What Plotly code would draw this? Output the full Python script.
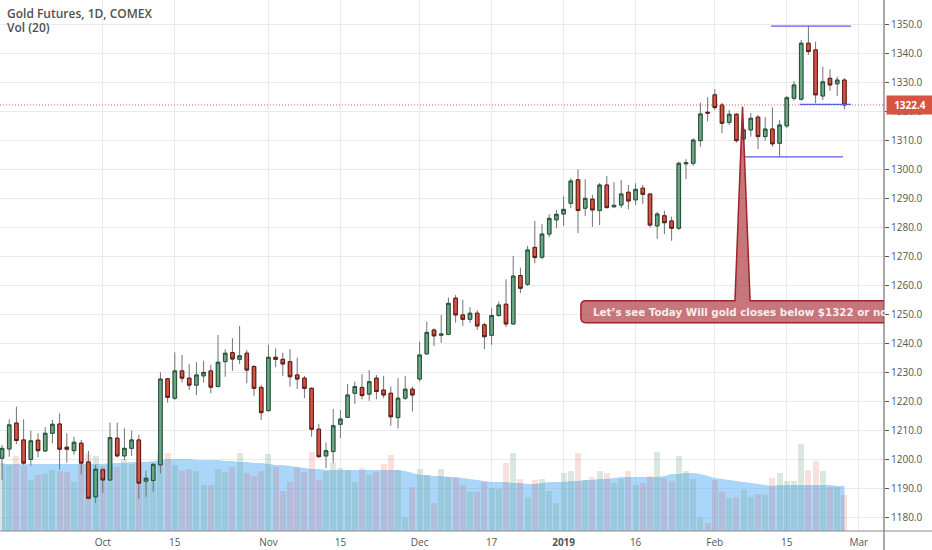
import plotly.graph_objects as go

# daily candles, left to right (Sep 2018 - Feb 2019)
opens = [1200.6, 1203.8, 1212.7, 1206.9, 1200.2, 1206.8, 1203.1, 1209.2, 1212.4, 1204.4,
         1203.2, 1205.8, 1199.3, 1187.3, 1196.6, 1193.1, 1207.5, 1201.4, 1204.0, 1206.9,
         1192.7, 1192.9, 1198.3, 1228.0, 1221.3, 1230.7, 1228.2, 1225.8, 1229.0, 1230.7,
         1225.3, 1233.9, 1237.0, 1234.7, 1236.8, 1232.2, 1225.0, 1217.0, 1235.4, 1234.7,
         1233.9, 1229.3, 1228.2, 1224.7, 1210.6, 1201.4, 1202.9, 1212.3, 1214.7, 1223.0,
         1225.0, 1222.7, 1228.2, 1224.1, 1223.0, 1214.6, 1221.3, 1224.4, 1227.9, 1236.6,
         1244.8, 1243.0, 1243.3, 1255.8, 1250.0, 1248.5, 1250.6, 1246.6, 1243.0, 1249.8,
         1253.7, 1246.9, 1263.6, 1260.6, 1273.3, 1269.9, 1277.9, 1282.8, 1284.8, 1288.5,
         1296.6, 1286.8, 1289.9, 1286.0, 1294.8, 1287.3, 1287.9, 1292.3, 1289.7, 1293.7,
         1291.7, 1280.7, 1284.2, 1282.4, 1279.9, 1302.1, 1302.3, 1310.1, 1319.9, 1325.9,
         1322.4, 1316.4, 1319.2, 1310.7, 1313.8, 1318.2, 1311.5, 1314.1, 1309.2, 1315.2,
         1324.7, 1324.4, 1343.7, 1341.4, 1325.5, 1331.6, 1329.7, 1331.0]
highs = [1205.2, 1214.0, 1218.4, 1214.0, 1210.1, 1209.2, 1211.3, 1213.8, 1216.1, 1209.2,
         1208.0, 1206.9, 1203.1, 1198.3, 1197.1, 1212.9, 1212.9, 1210.9, 1210.1, 1208.6,
         1196.3, 1198.9, 1230.2, 1228.2, 1237.1, 1236.2, 1233.0, 1233.7, 1234.2, 1232.8,
         1243.1, 1238.2, 1242.0, 1246.2, 1237.9, 1232.8, 1225.9, 1239.7, 1238.5, 1237.0,
         1238.2, 1235.3, 1229.0, 1225.0, 1212.4, 1206.0, 1217.6, 1217.2, 1226.2, 1227.0,
         1229.6, 1231.0, 1229.3, 1229.0, 1225.3, 1228.2, 1229.0, 1225.3, 1240.8, 1247.7,
         1245.4, 1250.0, 1256.0, 1256.9, 1255.2, 1252.7, 1251.7, 1247.3, 1252.3, 1254.6,
         1262.3, 1270.3, 1266.3, 1273.8, 1282.4, 1281.4, 1284.7, 1286.2, 1291.0, 1297.1,
         1300.2, 1296.8, 1291.4, 1295.5, 1297.9, 1295.8, 1296.6, 1294.8, 1295.4, 1294.8,
         1292.0, 1285.6, 1285.9, 1283.9, 1302.9, 1303.7, 1310.9, 1323.2, 1325.1, 1327.8,
         1323.2, 1320.7, 1319.6, 1315.0, 1319.6, 1319.0, 1318.2, 1321.6, 1317.2, 1325.5,
         1330.7, 1344.8, 1349.7, 1344.2, 1335.6, 1334.7, 1332.2, 1331.6]
lows = [1193.1, 1201.1, 1205.5, 1198.3, 1198.0, 1200.9, 1202.9, 1205.8, 1196.6, 1199.1,
        1201.8, 1195.1, 1186.4, 1185.1, 1188.7, 1192.9, 1200.8, 1200.0, 1201.4, 1186.6,
        1187.3, 1189.1, 1195.4, 1219.8, 1220.7, 1226.7, 1224.1, 1222.4, 1226.7, 1223.0,
        1225.1, 1228.7, 1230.7, 1233.1, 1226.4, 1222.1, 1213.8, 1216.7, 1232.0, 1229.0,
        1225.3, 1224.5, 1221.3, 1208.0, 1200.9, 1197.1, 1198.9, 1207.5, 1214.4, 1219.3,
        1220.9, 1220.4, 1220.9, 1221.3, 1211.8, 1210.9, 1220.7, 1216.7, 1227.0, 1236.2,
        1239.3, 1240.4, 1243.0, 1247.3, 1246.2, 1247.3, 1244.8, 1238.2, 1239.7, 1249.4,
        1245.8, 1246.6, 1257.5, 1260.0, 1267.8, 1269.2, 1276.8, 1279.9, 1280.7, 1286.8,
        1278.2, 1284.1, 1280.4, 1281.0, 1286.8, 1287.0, 1286.8, 1286.4, 1287.9, 1288.3,
        1280.2, 1276.2, 1277.9, 1275.6, 1279.3, 1296.8, 1301.4, 1308.0, 1316.7, 1320.7,
        1312.7, 1315.5, 1309.4, 1309.0, 1311.5, 1307.2, 1310.1, 1308.0, 1304.6, 1314.4,
        1323.9, 1323.9, 1339.7, 1323.0, 1324.1, 1327.3, 1325.5, 1320.9]
closes = [1204.0, 1212.1, 1206.7, 1198.9, 1206.6, 1203.2, 1209.2, 1212.3, 1203.7, 1203.7,
          1206.1, 1198.9, 1186.8, 1196.8, 1193.1, 1207.7, 1201.4, 1204.0, 1206.9, 1192.0,
          1193.7, 1198.5, 1227.9, 1221.6, 1230.7, 1228.2, 1225.8, 1229.3, 1230.2, 1225.1,
          1233.7, 1236.8, 1234.8, 1235.9, 1231.0, 1224.7, 1216.3, 1235.4, 1234.7, 1233.1,
          1228.7, 1227.9, 1224.7, 1210.6, 1201.1, 1203.2, 1211.8, 1214.1, 1222.4, 1225.3,
          1222.2, 1227.0, 1223.6, 1222.4, 1214.9, 1221.3, 1224.4, 1222.4, 1236.2, 1244.0,
          1242.8, 1243.4, 1254.0, 1250.0, 1248.5, 1250.6, 1246.2, 1242.5, 1249.8, 1253.4,
          1246.9, 1263.4, 1259.2, 1272.4, 1269.8, 1277.9, 1283.3, 1284.7, 1286.4, 1296.2,
          1286.0, 1290.2, 1286.2, 1294.8, 1287.0, 1287.8, 1291.7, 1289.3, 1293.3, 1291.6,
          1281.0, 1284.8, 1281.8, 1279.9, 1302.3, 1302.5, 1310.3, 1319.3, 1319.6, 1321.5,
          1316.1, 1319.2, 1310.1, 1313.8, 1317.8, 1311.5, 1314.1, 1309.0, 1315.5, 1324.9,
          1329.3, 1343.7, 1340.8, 1325.9, 1330.4, 1329.3, 1331.0, 1322.4]

# volume and its 20-bar average, thousands of contracts
volume = [272, 264, 300, 260, 204, 224, 228, 244, 240, 236, 196, 272, 308, 300, 260, 264,
          256, 288, 268, 272, 204, 216, 316, 312, 264, 240, 248, 240, 184, 184, 248, 236,
          256, 312, 232, 220, 240, 308, 256, 160, 196, 256, 236, 316, 204, 240, 272, 252,
          244, 196, 252, 224, 236, 268, 304, 244, 56, 176, 248, 224, 112, 248, 216, 212,
          184, 156, 156, 196, 172, 168, 272, 312, 208, 136, 204, 208, 160, 112, 232, 240,
          312, 204, 216, 240, 232, 192, 208, 240, 184, 192, 220, 316, 212, 200, 300, 240,
          208, 56, 32, 204, 156, 132, 136, 164, 136, 148, 144, 212, 232, 200, 200, 348,
          244, 280, 240, 176, 176, 144]
vol_ma = [268, 268, 268, 268, 268, 268, 268, 268, 268, 268, 268, 268, 268, 268, 268, 272,
          272, 272, 276, 276, 276, 280, 284, 288, 288, 288, 288, 284, 284, 284, 284, 280,
          280, 276, 276, 272, 272, 268, 264, 264, 260, 256, 252, 248, 248, 244, 244, 244,
          244, 244, 244, 244, 244, 244, 244, 244, 240, 232, 224, 224, 220, 220, 216, 216,
          212, 208, 204, 200, 196, 196, 196, 192, 192, 188, 188, 192, 196, 196, 196, 200,
          200, 204, 204, 208, 208, 212, 216, 216, 216, 216, 216, 216, 220, 228, 228, 232,
          232, 228, 220, 212, 208, 204, 200, 196, 192, 188, 184, 180, 184, 184, 184, 184,
          184, 184, 184, 184, 180, 180]

tick_pos = [14, 24, 37, 47, 58, 68, 78, 88, 99, 109, 119]
tick_text = ["Oct", "15", "Nov", "15", "Dec", "17", "<b>2019</b>", "16", "Feb", "15", "Mar"]

last_price = 1322.4
note = "Let’s see Today Will gold closes below $1322 or not"

idx = list(range(len(opens)))
body_hi = [max(o, c) for o, c in zip(opens, closes)]
body_lo = [min(o, c) for o, c in zip(opens, closes)]
vol_colors = ["rgba(107,165,131,0.25)" if c >= o else "rgba(215,84,66,0.18)"
              for o, c in zip(opens, closes)]

UP, UP_EDGE = "#6ba583", "#225437"
DN, DN_EDGE = "#d75442", "#5b1a13"
WICK = "#737375"
GRID = "#e9e9ef"
TXT = "#555555"
FONT = "Open Sans"
LEVEL = "#5a5ae4"

fig = go.Figure()

fig.add_trace(go.Scatter(x=idx, y=vol_ma, yaxis="y", mode="lines", line=dict(width=0),
                         fill="tozeroy", fillcolor="rgba(100,181,246,0.55)", hoverinfo="skip"))
fig.add_trace(go.Bar(x=idx, y=volume, yaxis="y2", marker=dict(color=vol_colors, line_width=0),
                     width=0.85))

# wicks in grey, then the bodies on top
fig.add_trace(go.Candlestick(x=idx, open=opens, high=highs, low=lows, close=closes, yaxis="y3",
                             increasing=dict(line=dict(color=WICK, width=1), fillcolor=WICK),
                             decreasing=dict(line=dict(color=WICK, width=1), fillcolor=WICK)))
fig.add_trace(go.Candlestick(x=idx, open=opens, high=body_hi, low=body_lo, close=closes, yaxis="y3",
                             increasing=dict(line=dict(color=UP_EDGE, width=1), fillcolor=UP),
                             decreasing=dict(line=dict(color=DN_EDGE, width=1), fillcolor=DN)))

shapes = [
    dict(type="line", xref="paper", yref="y3", x0=0, x1=1, y0=last_price, y1=last_price,
         line=dict(color="#d9635a", width=1, dash="1px,2px"), layer="above"),
    dict(type="line", xref="x", yref="y3", x0=106.8, x1=117.9, y0=1349.6, y1=1349.6,
         line=dict(color=LEVEL, width=1.2), layer="above"),
    dict(type="line", xref="x", yref="y3", x0=110.8, x1=117.9, y0=1322.6, y1=1322.6,
         line=dict(color=LEVEL, width=1.2), layer="above"),
    dict(type="line", xref="x", yref="y3", x0=103.1, x1=116.8, y0=1304.5, y1=1304.5,
         line=dict(color=LEVEL, width=1.2), layer="above"),
    # callout box with its pointer
    dict(type="path", xref="x", yref="y3", layer="above",
         path="M 81.1,1254.9 L 101.8,1254.9 L 102.85,1321.8 L 103.9,1254.9 L 127,1254.9 "
              "L 127,1247.3 L 81.1,1247.3 Q 80.4,1247.3 80.4,1249.0 L 80.4,1253.2 "
              "Q 80.4,1254.9 81.1,1254.9 Z",
         fillcolor="rgba(165,35,42,0.62)", line=dict(color="#a3212a", width=1.5)),
    # axis lines running to the page edges
    dict(type="line", xref="paper", yref="paper", x0=1, x1=1, y0=-0.04, y1=1,
         line=dict(color=TXT, width=1)),
    dict(type="line", xref="paper", yref="paper", x0=0, x1=1.06, y0=0, y1=0,
         line=dict(color="#8a8a8a", width=1)),
]

fig.update_layout(
    width=932, height=550,
    margin=dict(l=0, r=48, t=0, b=19, autoexpand=False),
    paper_bgcolor="white", plot_bgcolor="white",
    showlegend=False, bargap=0,
    font=dict(family=FONT, size=10, color=TXT),
    xaxis=dict(range=[-0.28, 122.5], tickvals=tick_pos, ticktext=tick_text,
               showgrid=True, gridcolor=GRID, zeroline=False, showline=False,
               ticks="", ticklabelstandoff=4, tickfont=dict(size=10, color=TXT),
               rangeslider=dict(visible=False), fixedrange=True),
    yaxis=dict(range=[0, 2124], visible=False, fixedrange=True),
    yaxis2=dict(range=[0, 2124], overlaying="y", visible=False, fixedrange=True),
    yaxis3=dict(range=[1175.5, 1358.6], overlaying="y", side="right", tick0=1180, dtick=10,
                tickformat=".1f", showgrid=True, gridcolor=GRID, zeroline=False,
                showline=False, ticks="outside", ticklen=4, tickcolor=TXT,
                tickfont=dict(size=10, color=TXT), fixedrange=True),
    shapes=shapes,
    annotations=[
        dict(xref="paper", yref="paper", x=5 / 884, y=1 - 3 / 531, xanchor="left", yanchor="top",
             text="Gold Futures, 1D, COMEX", showarrow=False,
             font=dict(family=FONT, size=12, color="#505050", weight=600)),
        dict(xref="paper", yref="paper", x=5 / 884, y=1 - 17 / 531, xanchor="left", yanchor="top",
             text="Vol (20)", showarrow=False,
             font=dict(family=FONT, size=12, color="#505050", weight=600)),
        dict(xref="paper", yref="y3", x=1 + 2 / 884, y=last_price, xanchor="left",
             text="<b>%.1f</b>" % last_price, showarrow=False, bgcolor=DN, width=42,
             borderpad=2, font=dict(family=FONT, size=10, color="white")),
        # callout text, cut where the price scale begins
        dict(xref="x", yref="y3", x=81.94, y=1251.1, xanchor="left", yanchor="middle",
             text=note, showarrow=False, width=292, align="left", borderpad=0,
             font=dict(family="DejaVu Sans", size=10.3, color="#f8eded", weight="bold")),
    ],
)

fig.write_html("out.html", config={"displayModeBar": False},
               post_script="document.body.style.margin='0px';")
